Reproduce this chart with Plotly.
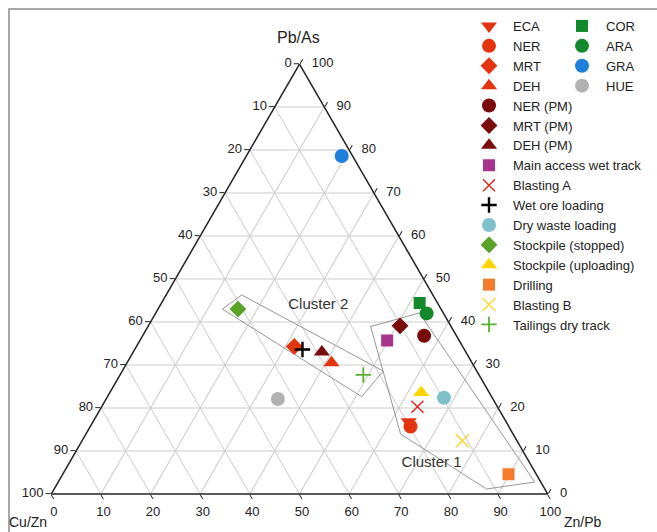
import plotly.graph_objects as go

# Ternary composition (percent): a = Pb/As, b = Cu/Zn, c = Zn/Pb
names = ["ECA", "NER", "MRT", "DEH", "NER (PM)", "MRT (PM)", "DEH (PM)",
         "Main access wet track", "Blasting A", "Wet ore loading",
         "Dry waste loading", "Stockpile (stopped)", "Stockpile (uploading)",
         "Drilling", "Blasting B", "Tailings dry track",
         "COR", "ARA", "GRA", "HUE"]
pb_as = [16.8, 15.7, 34.3, 30.5, 36.8, 39.1, 33.0, 35.7, 20.3, 33.6,
         22.4, 43.0, 23.6, 4.6, 12.4, 27.7, 44.4, 42.0, 78.6, 22.1]
cu_zn = [19.6, 19.8, 33.9, 28.3, 6.5, 10.2, 29.0, 14.5, 16.1, 32.6,
         9.7, 40.9, 13.7, 5.6, 11.0, 23.3, 3.6, 3.4, 2.2, 43.3]
zn_pb = [63.6, 64.5, 31.8, 41.2, 56.7, 50.7, 38.0, 49.8, 63.6, 33.8,
         67.9, 16.1, 62.7, 89.8, 76.6, 49.0, 52.0, 54.6, 19.2, 34.6]

# Cluster outlines (percent, same component order)
cluster1_pb_as = [38.95, 42.09, 2.79, 1.16, 13.95, 38.95]
cluster1_cu_zn = [16.20, 4.82, 1.23, 11.75, 22.67, 16.20]
cluster1_zn_pb = [44.85, 53.09, 95.98, 87.09, 63.38, 44.85]
cluster2_pb_as = [43.00, 46.28, 28.60, 22.63, 43.00]
cluster2_cu_zn = [44.03, 38.49, 18.84, 26.16, 44.03]
cluster2_zn_pb = [12.97, 15.23, 52.56, 51.21, 12.97]
cluster_labels = ["Cluster 1", "Cluster 2"]
cluster_label_pb_as = [7.14, 43.79]
cluster_label_cu_zn = [19.83, 24.33]
cluster_label_zn_pb = [73.03, 31.88]

tick_vals = list(range(0, 101, 10))
tick_text = [str(100 - v) for v in tick_vals]
# Pb/As scale printed beside the right edge
right_tick_text = [str(v) for v in tick_vals]

RED = "#e3340f"
DARK = "#7a0b0b"
styles = {
    "ECA": dict(symbol="triangle-down", color=RED, size=14),
    "NER": dict(symbol="circle", color=RED, size=14),
    "MRT": dict(symbol="diamond", color=RED, size=13),
    "DEH": dict(symbol="triangle-up", color=RED, size=14),
    "NER (PM)": dict(symbol="circle", color=DARK, size=14),
    "MRT (PM)": dict(symbol="diamond", color=DARK, size=13),
    "DEH (PM)": dict(symbol="triangle-up", color=DARK, size=14),
    "Main access wet track": dict(symbol="square", color="#a8358b", size=12),
    "Blasting A": dict(symbol="x-thin-open", color="#e8231b", size=12, lw=1.4),
    "Wet ore loading": dict(symbol="cross-thin-open", color="#000000", size=11, lw=2.4),
    "Dry waste loading": dict(symbol="circle", color="#7fc1cb", size=14),
    "Stockpile (stopped)": dict(symbol="diamond", color="#58a228", size=13),
    "Stockpile (uploading)": dict(symbol="triangle-up", color="#ffd500", size=14),
    "Drilling": dict(symbol="square", color="#f47b2b", size=12),
    "Blasting B": dict(symbol="x-thin-open", color="#fbd52c", size=13, lw=1.4),
    "Tailings dry track": dict(symbol="cross-thin-open", color="#5aae32", size=11, lw=1.8),
    "COR": dict(symbol="square", color="#128a2b", size=12),
    "ARA": dict(symbol="circle", color="#128a2b", size=14),
    "GRA": dict(symbol="circle", color="#1f80dc", size=14),
    "HUE": dict(symbol="circle", color="#b1b1b1", size=14),
}
second_column = {"COR", "ARA", "GRA", "HUE"}

fig = go.Figure()

# cluster outlines
for pa, cz, zp in [(cluster1_pb_as, cluster1_cu_zn, cluster1_zn_pb),
                   (cluster2_pb_as, cluster2_cu_zn, cluster2_zn_pb)]:
    fig.add_trace(go.Scatterternary(
        a=pa, b=cz, c=zp, mode="lines",
        line=dict(color="#8a8a8a", width=0.9),
        showlegend=False, hoverinfo="skip"))

fig.add_trace(go.Scatterternary(
    a=cluster_label_pb_as, b=cluster_label_cu_zn, c=cluster_label_zn_pb,
    mode="text", text=cluster_labels,
    textfont=dict(size=15, color="#333333"),
    showlegend=False, hoverinfo="skip"))

# right-edge tick labels, set horizontally beside each Pb/As grid line
fig.add_trace(go.Scatterternary(
    a=tick_vals, b=[0] * len(tick_vals), c=[100 - v for v in tick_vals],
    mode="markers+text", text=right_tick_text, textposition="middle right",
    marker=dict(size=18, color="rgba(0,0,0,0)"),
    textfont=dict(size=13, color="#222222"),
    cliponaxis=False, showlegend=False, hoverinfo="skip"))

for i, n in enumerate(names):
    s = styles[n]
    marker = dict(symbol=s["symbol"], size=s["size"], color=s["color"])
    if "lw" in s:
        marker["line"] = dict(color=s["color"], width=s["lw"])
    else:
        marker["line"] = dict(width=0)
    fig.add_trace(go.Scatterternary(
        a=[pb_as[i]], b=[cu_zn[i]], c=[zn_pb[i]],
        mode="markers", name=n, marker=marker,
        legend="legend2" if n in second_column else "legend"))

axis_common = dict(
    tickmode="array", tickvals=tick_vals, ticktext=tick_text,
    ticks="outside", ticklen=5, tickcolor="#222222", tickwidth=1,
    linecolor="#222222", linewidth=1.5,
    gridcolor="#cbcbcb", gridwidth=1.2,
    tickfont=dict(size=13, color="#222222"),
    showline=True, showgrid=True, min=0, title=dict(text=""),
)

legend_common = dict(
    yanchor="top", xanchor="left", y=1 - 11 / 532,
    font=dict(size=13, color="#222222"), bgcolor="rgba(0,0,0,0)",
    tracegroupgap=0, itemwidth=38,
)

fig.update_layout(
    width=657, height=532,
    margin=dict(l=0, r=0, t=0, b=0),
    paper_bgcolor="white",
    font=dict(family="Liberation Sans, Arial, sans-serif", color="#222222"),
    ternary=dict(
        sum=100,
        bgcolor="white",
        domain=dict(x=[51 / 657, 548 / 657], y=[38 / 532, 468 / 532]),
        aaxis=axis_common,
        baxis=axis_common,
        caxis=dict(axis_common, showticklabels=False),
    ),
    legend=dict(legend_common, x=465 / 657),
    legend2=dict(legend_common, x=558 / 657),
    annotations=[
        dict(text="Pb/As", x=298 / 657, y=1 - 37 / 532, font=dict(size=16)),
        dict(text="Cu/Zn", x=28 / 657, y=1 - 522 / 532, font=dict(size=14)),
        dict(text="Zn/Pb", x=583 / 657, y=1 - 522 / 532, font=dict(size=14)),
    ],
    shapes=[dict(type="rect", xref="paper", yref="paper",
                 x0=9 / 657, x1=1.05, y0=-0.05, y1=1 - 9 / 532,
                 line=dict(color="#8c8c8c", width=1.5), layer="below")],
)
fig.update_annotations(xref="paper", yref="paper", showarrow=False,
                       xanchor="center", yanchor="middle",
                       font_color="#222222")

fig.write_html("out.html")
